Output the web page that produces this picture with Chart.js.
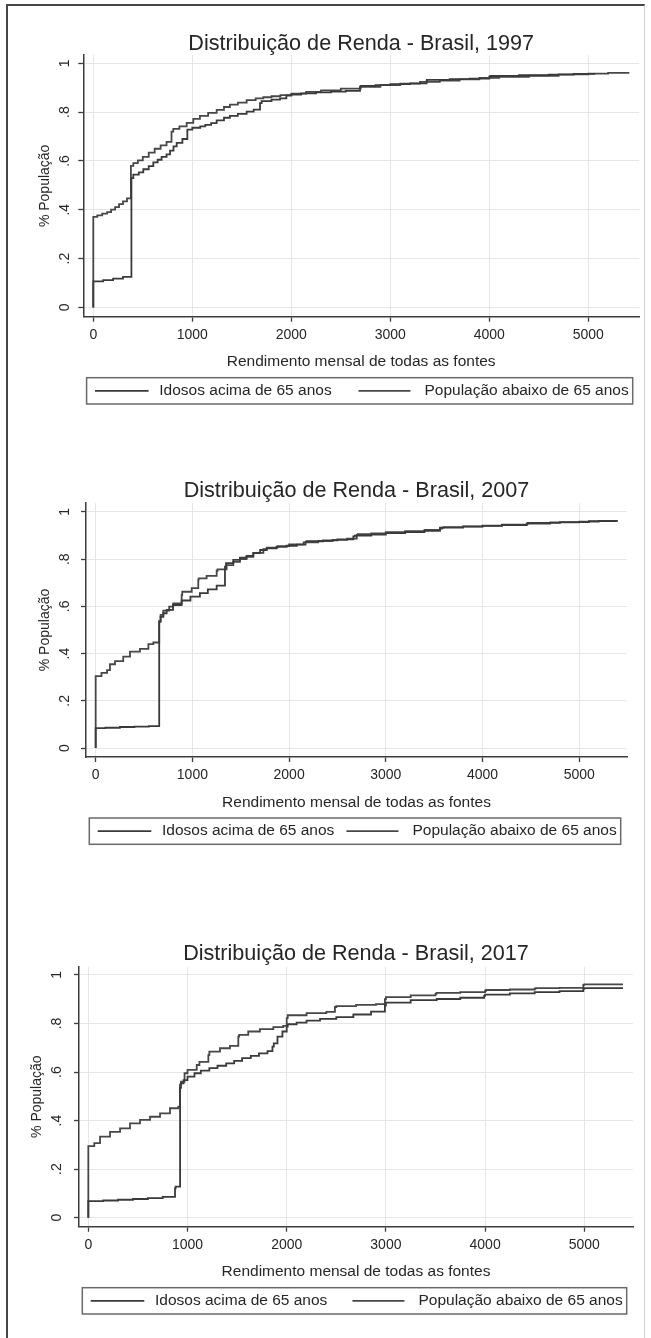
<!DOCTYPE html>
<html lang="pt-BR">
<head>
<meta charset="utf-8">
<title>Distribuição de Renda - Brasil</title>
<script src="https://cdn.jsdelivr.net/npm/chart.js@4.4.1/dist/chart.umd.min.js"></script>
<style>
  html, body { margin: 0; padding: 0; background: #ffffff; }
  body { width: 651px; height: 1338px; position: relative; overflow: hidden; }
  #frame {
    position: absolute; left: 6px; top: 4px; width: 639px; height: 1345px;
    border-left: 2px solid #454545; border-top: 2px solid #454545; border-right: 1px solid #d4d4d4;
    box-sizing: border-box;
  }
  canvas { position: absolute; left: 0; }
</style>
</head>
<body>
<div id="frame"></div>
<canvas id="c1997" width="651" height="440" style="top:0px"></canvas>
<canvas id="c2007" width="651" height="440" style="top:440px"></canvas>
<canvas id="c2017" width="651" height="458" style="top:880px"></canvas>
<script>
// ---- Axis ticks and labels ----
const xTicks = [0, 1000, 2000, 3000, 4000, 5000];
const xTickLabels = ['0', '1000', '2000', '3000', '4000', '5000'];
const yTicks = [0, 0.2, 0.4, 0.6, 0.8, 1];
const yTickLabels = ['0', '.2', '.4', '.6', '.8', '1'];
const xTitle = 'Rendimento mensal de todas as fontes';
const yTitle = '% População';
const seriesNames = ['Idosos acima de 65 anos', 'População abaixo de 65 anos'];
const years = ['1997', '2007', '2017'];

// ---- Empirical cumulative distributions: [renda, proporção acumulada] ----
const idosos1997 = [
  [0,0],[0,0.105],[100,0.107],[200,0.112],[300,0.118],[385,0.125],[404,0.53],[460,0.544],[505,0.553],
  [560,0.566],[606,0.579],[650,0.594],[690,0.605],[740,0.617],[775,0.627],[810,0.642],[842,0.66],
  [900,0.674],[950,0.69],[1000,0.728],[1080,0.736],[1131,0.742],[1190,0.748],[1246,0.755],[1320,0.766],
  [1380,0.777],[1460,0.785],[1549,0.793],[1620,0.802],[1684,0.81],[1700,0.837],[1800,0.845],[1886,0.851],
  [1950,0.856],[2000,0.868],[2100,0.872],[2250,0.877],[2400,0.881],[2550,0.884],[2694,0.887],[2700,0.903],
  [2850,0.907],[3000,0.911],[3200,0.915],[3367,0.918],[3370,0.929],[3600,0.932],[3800,0.935],[4000,0.937],
  [4010,0.945],[4300,0.948],[4600,0.951],[4850,0.954],[5070,0.957]
];
const populacao1997 = [
  [0,0],[0,0.368],[40,0.371],[90,0.377],[140,0.384],[180,0.39],[220,0.401],[260,0.411],[300,0.423],
  [340,0.434],[380,0.447],[404,0.58],[450,0.591],[500,0.602],[560,0.617],[620,0.634],[680,0.65],
  [740,0.664],[790,0.678],[808,0.72],[870,0.731],[943,0.742],[1010,0.756],[1077,0.772],[1160,0.785],
  [1246,0.797],[1320,0.809],[1380,0.821],[1460,0.831],[1549,0.839],[1640,0.849],[1717,0.856],[1800,0.861],
  [1890,0.865],[2000,0.87],[2150,0.876],[2300,0.883],[2500,0.889],[2700,0.896],[2900,0.904],[3100,0.911],
  [3300,0.917],[3500,0.924],[3700,0.929],[3900,0.934],[4100,0.94],[4400,0.945],[4700,0.949],[5000,0.955],
  [5200,0.958],[5414,0.961]
];
const idosos2007 = [
  [0,0],[0,0.083],[100,0.084],[250,0.086],[400,0.089],[550,0.091],[657,0.093],[671,0.535],[700,0.556],
  [734,0.571],[800,0.585],[889,0.606],[980,0.625],[1078,0.641],[1160,0.656],[1251,0.672],[1337,0.688],
  [1348,0.768],[1423,0.783],[1492,0.797],[1560,0.806],[1630,0.814],[1700,0.826],[1768,0.839],[1870,0.846],
  [1975,0.852],[2080,0.857],[2170,0.862],[2180,0.872],[2350,0.876],[2500,0.88],[2664,0.884],[2680,0.897],
  [2850,0.9],[3000,0.904],[3200,0.91],[3400,0.915],[3560,0.92],[3580,0.93],[3800,0.934],[4000,0.938],
  [4200,0.941],[4457,0.944],[4470,0.951],[4800,0.954],[5100,0.957],[5390,0.961]
];
const populacao2007 = [
  [0,0],[0,0.3],[60,0.305],[118,0.318],[148,0.33],[200,0.355],[285,0.368],[355,0.387],[458,0.408],
  [545,0.42],[596,0.44],[657,0.447],[671,0.538],[699,0.564],[760,0.582],[802,0.599],[889,0.613],
  [895,0.648],[993,0.662],[1061,0.677],[1065,0.712],[1147,0.719],[1251,0.729],[1260,0.751],[1354,0.757],
  [1423,0.775],[1492,0.789],[1560,0.8],[1630,0.81],[1734,0.827],[1770,0.843],[1880,0.849],[2000,0.855],
  [2150,0.863],[2300,0.871],[2450,0.877],[2600,0.882],[2700,0.887],[2710,0.903],[2850,0.906],[3000,0.909],
  [3200,0.914],[3400,0.919],[3560,0.924],[3600,0.934],[3800,0.936],[4000,0.939],[4200,0.942],[4457,0.946],
  [4700,0.951],[5000,0.956],[5200,0.959],[5400,0.962]
];
const idosos2017 = [
  [0,0],[0,0.066],[150,0.068],[300,0.071],[450,0.074],[600,0.077],[750,0.081],[874,0.086],[880,0.121],
  [925,0.128],[934,0.535],[960,0.553],[1000,0.567],[1070,0.581],[1134,0.595],[1220,0.606],[1302,0.616],
  [1390,0.626],[1470,0.636],[1550,0.646],[1638,0.657],[1720,0.667],[1806,0.677],[1856,0.686],[1870,0.705],
  [1907,0.718],[1957,0.746],[2000,0.767],[2010,0.787],[2100,0.797],[2200,0.804],[2336,0.812],[2500,0.819],
  [2672,0.826],[2850,0.837],[2990,0.849],[3000,0.874],[3250,0.886],[3512,0.896],[3750,0.901],[3990,0.906],
  [4000,0.914],[4250,0.919],[4500,0.924],[4750,0.929],[4990,0.933],[5000,0.943],[5390,0.946]
];
const populacao2017 = [
  [0,0],[0,0.29],[60,0.295],[118,0.307],[219,0.334],[320,0.354],[420,0.368],[521,0.389],[622,0.403],
  [723,0.416],[823,0.43],[907,0.451],[924,0.458],[934,0.548],[970,0.56],[1000,0.595],[1093,0.609],
  [1120,0.629],[1210,0.642],[1220,0.67],[1327,0.684],[1428,0.698],[1512,0.708],[1520,0.746],[1612,0.753],
  [1730,0.767],[1865,0.777],[1965,0.785],[2000,0.79],[2010,0.822],[2200,0.834],[2400,0.843],[2486,0.848],
  [2500,0.868],[2700,0.872],[2900,0.877],[2990,0.88],[3000,0.9],[3250,0.909],[3500,0.916],[3510,0.922],
  [3750,0.926],[4000,0.929],[4010,0.935],[4250,0.938],[4500,0.94],[4510,0.944],[4750,0.946],[4990,0.947],
  [5000,0.959],[5390,0.961]
];

// ---- Styling ----
const FONT = "'Liberation Sans', Arial, Helvetica, sans-serif";
const INK = '#262626';
const AXIS = '#3c3c3c';
const GRID = '#e6e6e6';
const LEGEND_EDGE = '#6a6a6a';
const lineColors = ['#3a3a3a', '#474747'];
Chart.defaults.font.family = FONT;
Chart.defaults.color = INK;

// Panel placement on the page (pixels) and axis ranges
const panels = [
  { canvas: 'c1997', year: years[0], series: [idosos1997, populacao1997], top: 0, height: 440,
    plotLeft: 83.3, plotRight: 639, plotBottom: 316.7, titleTop: 33.5, titleBottom: 0.5,
    xRange: [-101, 5512], yRange: [-0.038, 1.034], yTitleX: 45, yLabelX: 65 },
  { canvas: 'c2007', year: years[1], series: [idosos2007, populacao2007], top: 440, height: 440,
    plotLeft: 86, plotRight: 627, plotBottom: 757, titleTop: 40.2, titleBottom: 1.8,
    xRange: [-100, 5494], yRange: [-0.038, 1.038], yTitleX: 45, yLabelX: 65 },
  { canvas: 'c2017', year: years[2], series: [idosos2017, populacao2017], top: 880, height: 458,
    plotLeft: 79, plotRight: 633, plotBottom: 1226.7, titleTop: 63.5, titleBottom: 2.2,
    xRange: [-94, 5491], yRange: [-0.037, 1.034], yTitleX: 36.7, yLabelX: 56.7 }
];

const X_AXIS_HEIGHT = 56;

// Rotated y tick labels and the boxed legend below the axis title
const panelDecor = {
  id: 'panelDecor',
  afterDraw(chart, _args, opts) {
    const { ctx, chartArea: a } = chart;
    const yScale = chart.scales.y;
    ctx.save();
    ctx.fillStyle = INK;
    ctx.font = `14px ${FONT}`;
    ctx.textAlign = 'center';
    ctx.textBaseline = 'middle';
    yTicks.forEach((v, i) => {
      const py = yScale.getPixelForValue(v);
      ctx.save();
      ctx.translate(opts.yLabelX, py);
      ctx.rotate(-Math.PI / 2);
      ctx.fillText(yTickLabels[i], 0, 0);
      ctx.restore();
    });

    const L = a.left + 3.3, R = a.right - 6.3;
    const T = a.bottom + 61, B = a.bottom + 87.3;
    const cy = (T + B) / 2;
    ctx.strokeStyle = LEGEND_EDGE;
    ctx.lineWidth = 1.5;
    ctx.strokeRect(L, T, R - L, B - T);

    ctx.font = `15.5px ${FONT}`;
    ctx.textAlign = 'left';
    const ds = chart.data.datasets;
    const w2 = ctx.measureText(ds[1].label).width;
    const t2 = R - 4 - w2;
    const items = [
      { x0: L + 8.4, x1: L + 62, tx: L + 72.7 },
      { x0: t2 - 66, x1: t2 - 14, tx: t2 }
    ];
    items.forEach((it, i) => {
      ctx.strokeStyle = ds[i].borderColor;
      ctx.lineWidth = 1.6;
      ctx.beginPath();
      ctx.moveTo(it.x0, cy);
      ctx.lineTo(it.x1, cy);
      ctx.stroke();
      ctx.fillText(ds[i].label, it.tx, cy);
    });
    ctx.restore();
  }
};

panels.forEach(p => {
  new Chart(document.getElementById(p.canvas), {
    type: 'line',
    data: {
      datasets: p.series.map((s, i) => ({
        label: seriesNames[i],
        data: s.map(([x, y]) => ({ x, y })),
        borderColor: lineColors[i],
        borderWidth: 1.8,
        pointRadius: 0,
        stepped: 'after',
        fill: false
      }))
    },
    options: {
      responsive: false,
      animation: false,
      devicePixelRatio: 1,
      layout: {
        padding: {
          left: 0,
          right: 651 - p.plotRight,
          top: 0,
          bottom: p.height - (p.plotBottom - p.top) - X_AXIS_HEIGHT
        }
      },
      plugins: {
        legend: { display: false },
        tooltip: { enabled: false },
        title: {
          display: true,
          fullSize: false,
          text: `Distribuição de Renda - Brasil, ${p.year}`,
          color: INK,
          font: { size: 21.6, lineHeight: 1, weight: 'normal' },
          padding: { top: p.titleTop - 0.3, bottom: p.titleBottom - 0.3 }
        },
        panelDecor: { yLabelX: p.yLabelX }
      },
      scales: {
        x: {
          type: 'linear',
          position: 'bottom',
          min: p.xRange[0],
          max: p.xRange[1],
          afterBuildTicks: s => { s.ticks = xTicks.map(v => ({ value: v })); },
          afterFit: s => { s.height = X_AXIS_HEIGHT; },
          ticks: {
            callback: v => xTickLabels[xTicks.indexOf(v)],
            font: { size: 14 },
            color: INK,
            padding: 5,
            maxRotation: 0,
            autoSkip: false
          },
          grid: { color: GRID, lineWidth: 1, tickLength: 5, tickColor: AXIS, tickWidth: 1.3 },
          border: { color: AXIS, width: 1.5 },
          title: {
            display: true,
            text: xTitle,
            color: INK,
            font: { size: 15.5 },
            padding: { top: 0, bottom: 1.4 }
          }
        },
        y: {
          type: 'linear',
          position: 'left',
          min: p.yRange[0],
          max: p.yRange[1],
          afterBuildTicks: s => { s.ticks = yTicks.map(v => ({ value: v })); },
          afterFit: s => { s.width = p.plotLeft; },
          ticks: { display: false },
          grid: { color: GRID, lineWidth: 1, tickLength: 5, tickColor: AXIS, tickWidth: 1.3 },
          border: { color: AXIS, width: 1.5 },
          title: {
            display: true,
            text: yTitle,
            color: INK,
            font: { size: 14 },
            padding: { top: p.yTitleX - 8.4, bottom: 0 }
          }
        }
      }
    },
    plugins: [panelDecor]
  });
});
</script>
</body>
</html>
